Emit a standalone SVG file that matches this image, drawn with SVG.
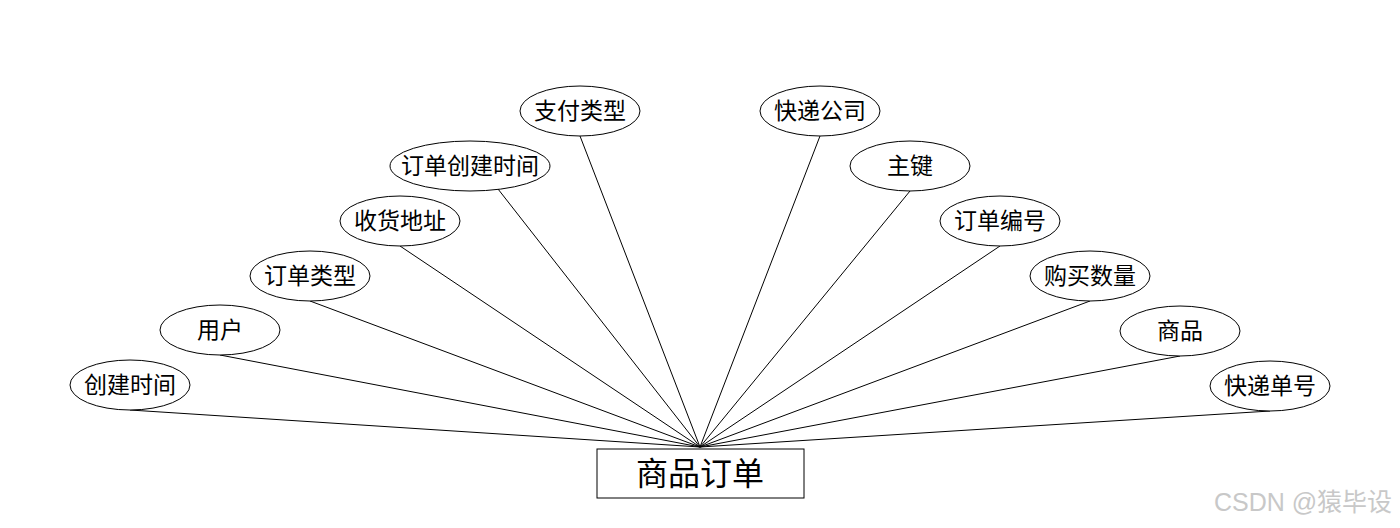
<svg xmlns="http://www.w3.org/2000/svg" width="1400" height="528" viewBox="0 0 1400 528">
<style>
.e{fill:#fff;stroke:#000;stroke-width:1}
.t{font-family:"Liberation Sans","Noto Sans CJK SC",sans-serif;font-size:23px;fill:#000;text-anchor:middle}
.c line{stroke:#000;stroke-width:1}
</style>
<rect width="1400" height="528" fill="#fff"/>
<g class="c" id="connectors">
<line x1="130" y1="410" x2="700" y2="447"/>
<line x1="220" y1="355" x2="700" y2="447"/>
<line x1="310" y1="301" x2="700" y2="447"/>
<line x1="400" y1="246" x2="700" y2="447"/>
<line x1="498" y1="189" x2="700" y2="447"/>
<line x1="580" y1="136" x2="700" y2="447"/>
<line x1="820" y1="136" x2="700" y2="447"/>
<line x1="910" y1="191" x2="700" y2="447"/>
<line x1="1000" y1="246" x2="700" y2="447"/>
<line x1="1090" y1="301" x2="700" y2="447"/>
<line x1="1180" y1="356" x2="700" y2="447"/>
<line x1="1270" y1="411" x2="700" y2="447"/>
</g>
<g id="n1"><ellipse class="e" cx="130" cy="385" rx="60" ry="25"/><text class="t" x="130" y="393">创建时间</text></g>
<g id="n2"><ellipse class="e" cx="220" cy="330" rx="60" ry="25"/><text class="t" x="220" y="338">用户</text></g>
<g id="n3"><ellipse class="e" cx="310" cy="276" rx="60" ry="25"/><text class="t" x="310" y="284">订单类型</text></g>
<g id="n4"><ellipse class="e" cx="400" cy="221" rx="60" ry="25"/><text class="t" x="400" y="229">收货地址</text></g>
<g id="n5"><ellipse class="e" cx="470" cy="166" rx="80" ry="25"/><text class="t" x="470" y="174">订单创建时间</text></g>
<g id="n6"><ellipse class="e" cx="580" cy="111" rx="60" ry="25"/><text class="t" x="580" y="119">支付类型</text></g>
<g id="n7"><ellipse class="e" cx="820" cy="111" rx="60" ry="25"/><text class="t" x="820" y="119">快递公司</text></g>
<g id="n8"><ellipse class="e" cx="910" cy="166" rx="60" ry="25"/><text class="t" x="910" y="174">主键</text></g>
<g id="n9"><ellipse class="e" cx="1000" cy="221" rx="60" ry="25"/><text class="t" x="1000" y="229">订单编号</text></g>
<g id="n10"><ellipse class="e" cx="1090" cy="276" rx="60" ry="25"/><text class="t" x="1090" y="284">购买数量</text></g>
<g id="n11"><ellipse class="e" cx="1180" cy="331" rx="60" ry="25"/><text class="t" x="1180" y="339">商品</text></g>
<g id="n12"><ellipse class="e" cx="1270" cy="386" rx="60" ry="25"/><text class="t" x="1270" y="394">快递单号</text></g>
<g id="main"><rect x="597" y="449" width="207" height="49" fill="#fff" stroke="#000" stroke-width="1"/><text class="t" x="700" y="485" style="font-size:32px">商品订单</text></g>
<text x="1303" y="511" style="font-family:'Liberation Sans','Noto Sans CJK SC',sans-serif;font-size:25px;fill:#c8c8c8;text-anchor:middle">CSDN @猿毕设</text>
</svg>
